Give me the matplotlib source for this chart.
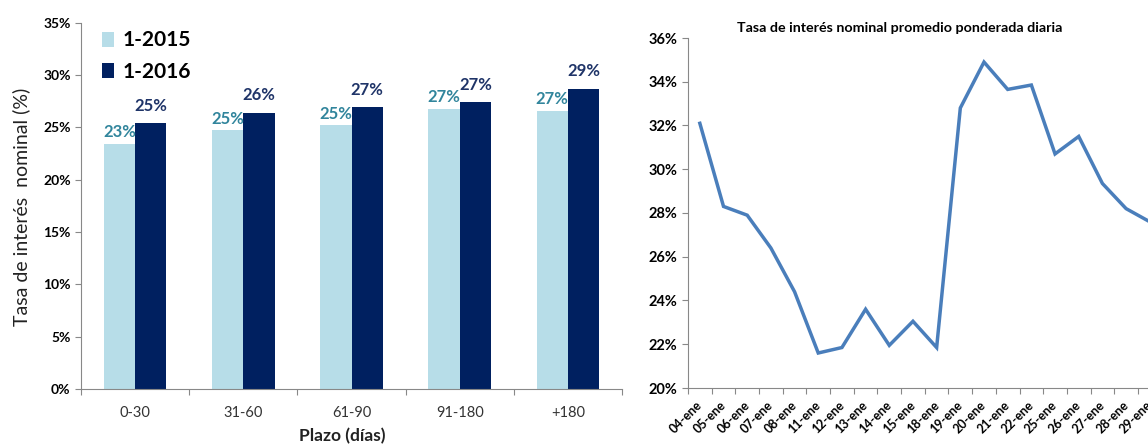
import matplotlib.pyplot as plt
from matplotlib.ticker import FixedLocator, FuncFormatter
from matplotlib.transforms import ScaledTranslation

# left chart data
plazos = ["0-30", "31-60", "61-90", "91-180", "+180"]
tasa_2015 = [23.4, 24.7, 25.2, 26.8, 26.6]
tasa_2016 = [25.4, 26.4, 26.9, 27.4, 28.7]

# right chart data
dias = ["04-ene", "05-ene", "06-ene", "07-ene", "08-ene", "11-ene", "12-ene",
        "13-ene", "14-ene", "15-ene", "18-ene", "19-ene", "20-ene", "21-ene",
        "22-ene", "25-ene", "26-ene", "27-ene", "28-ene", "29-ene"]
tasa_diaria = [32.1, 28.3, 27.9, 26.4, 24.4, 21.6, 21.85, 23.6, 21.95, 23.05,
               21.85, 32.8, 34.9, 33.65, 33.85, 30.7, 31.5, 29.35, 28.2, 27.6]

LIGHT = "#B7DDE8"
DARK = "#002060"
LIGHT_TXT = "#31859C"
DARK_TXT = "#1F3468"
AXIS = "#888888"
FONT = "Lato"


def style_axes(ax):
    for side in ["top", "right"]:
        ax.spines[side].set_visible(False)
    ax.spines["left"].set_color(AXIS)
    ax.spines["bottom"].set_color(AXIS)
    ax.tick_params(axis="both", which="major", color=AXIS, length=4, width=0.8)
    ax.tick_params(axis="x", which="minor", length=0)


def main():
    plt.rcParams["font.family"] = [FONT, "DejaVu Sans"]
    fig = plt.figure(figsize=(11.48, 4.48), dpi=100)

    # ---- left: bar chart
    ax = fig.add_axes([81 / 1148, 59 / 448, 541 / 1148, 366.3 / 448])
    n = len(plazos)
    centers = [i + 0.5 for i in range(n)]
    w = 0.29
    b1 = ax.bar([c - w / 2 for c in centers], tasa_2015, width=w, color=LIGHT,
                label="1-2015")
    b2 = ax.bar([c + w / 2 for c in centers], tasa_2016, width=w, color=DARK,
                label="1-2016")
    for r, v in zip(b1, tasa_2015):
        ax.text(r.get_x() + r.get_width() / 2, v + 0.35, f"{v:.0f}%",
                ha="center", va="bottom", fontsize=12, fontweight="bold",
                color=LIGHT_TXT)
    for r, v in zip(b2, tasa_2016):
        ax.text(r.get_x() + r.get_width() / 2, v + 0.9, f"{v:.0f}%",
                ha="center", va="bottom", fontsize=12, fontweight="bold",
                color=DARK_TXT)

    ax.set_xlim(0, n)
    ax.set_ylim(0, 35)
    ax.set_yticks(range(0, 36, 5))
    ax.yaxis.set_major_formatter(FuncFormatter(lambda v, p: f"{v:.0f}%"))
    ax.xaxis.set_major_locator(FixedLocator(range(n + 1)))
    ax.xaxis.set_major_formatter(FuncFormatter(lambda v, p: ""))
    ax.xaxis.set_minor_locator(FixedLocator(centers))
    ax.set_xticklabels(plazos, minor=True)
    style_axes(ax)
    ax.tick_params(axis="x", which="minor", pad=12, labelsize=10.5,
                   labelcolor="#333333")
    for t in ax.get_yticklabels():
        t.set_fontsize(10)
        t.set_fontweight("bold")

    ax.legend(loc="upper left", bbox_to_anchor=(0.005, 1.03), frameon=False,
              prop={"family": FONT, "weight": "bold", "size": 15},
              handlelength=0.55, handleheight=0.75, handletextpad=0.4,
              labelspacing=0.55)

    fig.text(342 / 1148, 1 - 436 / 448, "Plazo (días)", ha="center",
             va="center", fontsize=12.5, fontweight="bold", color="#222222")
    fig.text(21 / 1148, 1 - 207 / 448, "Tasa de interés  nominal (%)",
             ha="center", va="center", rotation=90, fontsize=14,
             color="#222222")

    # ---- right: daily line
    ax2 = fig.add_axes([688 / 1148, 60 / 448, 473.6 / 1148, 350 / 448])
    m = len(dias)
    pos = [i + 0.5 for i in range(m)]
    ax2.plot(pos, tasa_diaria, color="#4A7EBB", linewidth=2.5,
             solid_joinstyle="miter")
    ax2.set_xlim(0, m)
    ax2.set_ylim(20, 36)
    ax2.set_yticks(range(20, 37, 2))
    ax2.yaxis.set_major_formatter(FuncFormatter(lambda v, p: f"{v:.0f}%"))
    ax2.xaxis.set_major_locator(FixedLocator(range(m + 1)))
    ax2.xaxis.set_major_formatter(FuncFormatter(lambda v, p: ""))
    ax2.xaxis.set_minor_locator(FixedLocator(pos))
    ax2.set_xticklabels(dias, minor=True, rotation=45, ha="right",
                        rotation_mode="anchor")
    style_axes(ax2)
    ax2.tick_params(axis="x", which="minor", pad=8, labelsize=9)
    shift = ScaledTranslation(-4 / 100, 0, fig.dpi_scale_trans)
    for t in ax2.get_xticklabels(minor=True):
        t.set_fontweight("bold")
        t.set_transform(t.get_transform() + shift)
    for t in ax2.get_yticklabels():
        t.set_fontsize(10.5)
        t.set_fontweight("bold")

    fig.text(900 / 1148, 1 - 28 / 448,
             "Tasa de interés nominal promedio ponderada diaria",
             ha="center", va="center", fontsize=10.3, fontweight="bold")

    fig.savefig("out.png", dpi=100)


if __name__ == "__main__":
    main()
